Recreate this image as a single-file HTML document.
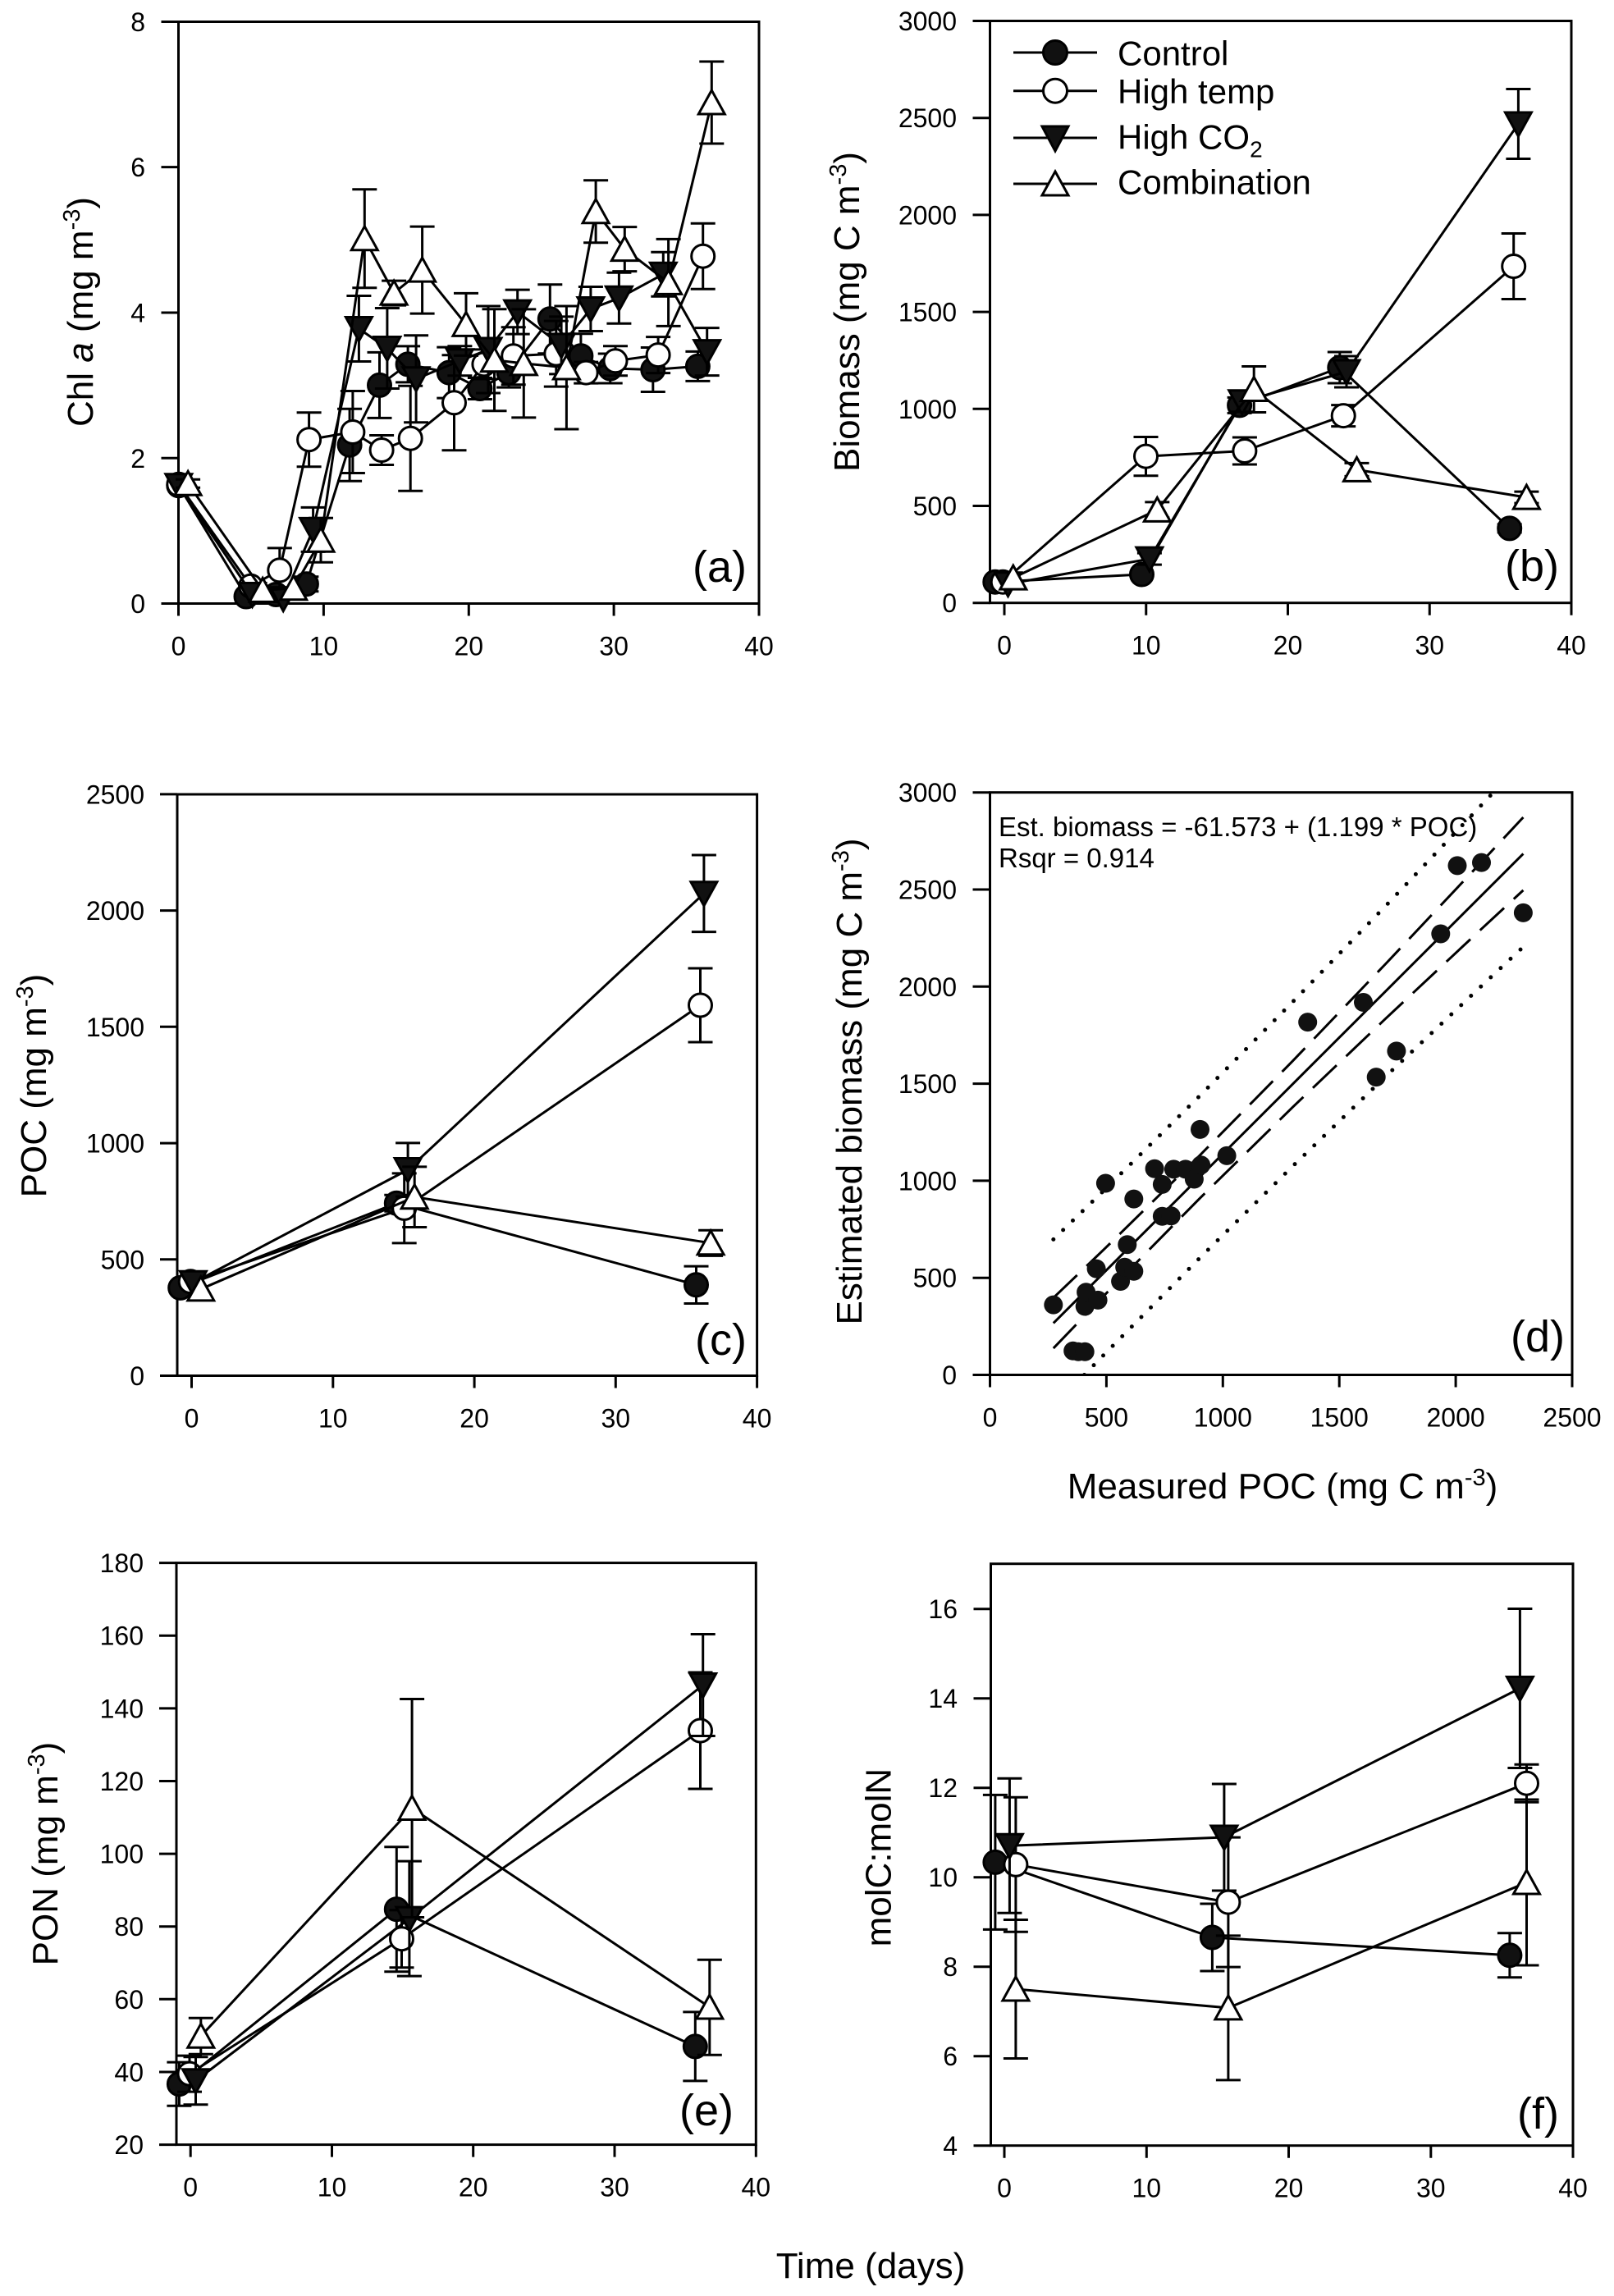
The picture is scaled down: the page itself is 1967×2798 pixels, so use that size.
<!DOCTYPE html>
<html>
<head>
<meta charset="utf-8">
<style>
html,body{margin:0;padding:0;background:#fff;}
svg{display:block;}
text{font-family:"Liberation Sans",Arial,sans-serif;fill:#000;}
.tk{font-size:32px;}
.ttl{font-size:44px;}
.lg{font-size:42px;}
.pl{font-size:54px;}
.an{font-size:33px;}
</style>
</head>
<body>
<svg width="1967" height="2798" viewBox="0 0 1967 2798" xmlns="http://www.w3.org/2000/svg">
<defs>
<marker id="fc" markerUnits="userSpaceOnUse" markerWidth="40" markerHeight="40" refX="20" refY="20" orient="0" overflow="visible"><circle cx="20" cy="20" r="14" fill="#111" stroke="#000" stroke-width="3"/></marker>
<marker id="oc" markerUnits="userSpaceOnUse" markerWidth="40" markerHeight="40" refX="20" refY="20" orient="0" overflow="visible"><circle cx="20" cy="20" r="14" fill="#fff" stroke="#000" stroke-width="3"/></marker>
<marker id="dt" markerUnits="userSpaceOnUse" markerWidth="40" markerHeight="40" refX="20" refY="20" orient="0" overflow="visible"><polygon points="4,6 36,6 20,35" fill="#111" stroke="#000" stroke-width="3"/></marker>
<marker id="ut" markerUnits="userSpaceOnUse" markerWidth="40" markerHeight="40" refX="20" refY="20" orient="0" overflow="visible"><polygon points="4,34 36,34 20,5" fill="#fff" stroke="#000" stroke-width="3"/></marker>
<marker id="cp" markerUnits="userSpaceOnUse" markerWidth="40" markerHeight="40" refX="20" refY="20" orient="0" overflow="visible"><path d="M5 20H35" stroke="#000" stroke-width="3"/></marker>
<clipPath id="clipd"><rect x="1206.5" y="965.7" width="709.5" height="709.8"/></clipPath>
</defs>
<style>
.eb{fill:none;stroke:#000;stroke-width:3;marker-start:url(#cp);marker-mid:url(#cp);marker-end:url(#cp);}
.ln{fill:none;stroke:#000;stroke-width:3;stroke-linejoin:round;}
.sfc{marker-start:url(#fc);marker-mid:url(#fc);marker-end:url(#fc);}
.soc{marker-start:url(#oc);marker-mid:url(#oc);marker-end:url(#oc);}
.sdt{marker-start:url(#dt);marker-mid:url(#dt);marker-end:url(#dt);}
.sut{marker-start:url(#ut);marker-mid:url(#ut);marker-end:url(#ut);}
.ax{fill:none;stroke:#000;stroke-width:3;}
</style>

<!-- ================= PANEL A ================= -->
<rect class="ax" x="217.5" y="26.5" width="707.5" height="709"/>
<path class="ax" d="M196.5 735.5H217.5M196.5 558.3H217.5M196.5 381H217.5M196.5 203.6H217.5M196.5 26.5H217.5M217.5 735.5V750.5M394.4 735.5V750.5M571.3 735.5V750.5M748.1 735.5V750.5M925 735.5V750.5"/>
<g class="tk" text-anchor="end">
<text x="177" y="747">0</text><text x="177" y="569.8">2</text><text x="177" y="392.5">4</text><text x="177" y="215.1">6</text><text x="177" y="38">8</text>
</g>
<g class="tk" text-anchor="middle">
<text x="217.5" y="798.5">0</text><text x="394.4" y="798.5">10</text><text x="571.3" y="798.5">20</text><text x="748.1" y="798.5">30</text><text x="925" y="798.5">40</text>
</g>
<text class="ttl" text-anchor="middle" transform="translate(113,380) rotate(-90)">Chl <tspan font-style="italic">a</tspan> (mg m<tspan dy="-16" font-size="29">-3</tspan><tspan dy="16">)</tspan></text>
<!-- control -->
<path class="eb" d="M373.4 702.7V720.7M426.1 498.3V586.3M462.5 429.4V509.4M497.1 421.9V465.9M547.3 423.1V485.1M584.9 460.5V486.5M620.1 436.1V472.1M670.3 346.8V430.8M707.9 406.7V460.7M743.7 431V467M795.8 423.5V477.5M850.4 428.4V464.4"/>
<polyline class="ln sfc" points="217.8,591.8 300,727 336.4,724.5 373.4,711.7 426.1,542.3 462.5,469.4 497.1,443.9 547.3,454.1 584.9,473.5 620.1,454.1 670.3,388.8 707.9,433.7 743.7,449 795.8,450.5 850.4,446.4"/>
<!-- high temp -->
<path class="eb" d="M340.8 667.9V721.9M376.6 502.7V568.7M429.9 476.5V576.5M465.1 530.5V566.5M500.2 470.2V598.2M553.5 432.8V548.8M589.9 425.9V461.9M625.7 398.7V468.7M677.8 391.1V471.1M714.2 441.1V467.1M750 421.8V457.8M802.1 410.6V454.6M856.7 272.2V352.2"/>
<polyline class="ln soc" points="217.8,590.3 305.6,714.3 340.8,694.9 376.6,535.7 429.9,526.5 465.1,548.5 500.2,534.2 553.5,490.8 589.9,443.9 625.7,433.7 677.8,431.1 714.2,454.1 750,439.8 802.1,432.6 856.7,312.2"/>
<!-- high CO2 -->
<path class="eb" d="M381.6 618.4V672.4M437.4 360.5V440.5M471.9 375.5V473.5M507.1 408.7V514.7M560.4 421.8V457.8M595 373V479M630.7 353.1V407.1M684.1 385.9V455.9M719.9 349.5V403.5M754.4 332.3V394.3M808.3 307.2V361.2M861.7 399.6V457.6"/>
<polyline class="ln sdt" points="217.8,591.8 307.5,724.5 345.2,729.6 381.6,645.4 437.4,400.5 471.9,424.5 507.1,461.7 560.4,439.8 595,426 630.7,380.1 684.1,420.9 719.9,376.5 754.4,363.3 808.3,334.2 861.7,428.6"/>
<!-- combination -->
<path class="eb" d="M229.1 584.3V594.3M391 631.2V685.2M444.3 230.8V350.8M480.1 342.1V372.1M514.6 276.1V382.1M568 357.4V433.4M602.5 376.8V500.8M638.3 376.9V508.9M690.4 373V523M726.1 219.7V295.7M761.3 276.6V330.6M814.6 291.4V397.4M867.3 75V175"/>
<polyline class="ln sut" points="229.1,589.3 320.1,719.4 357.7,716.8 391,658.2 444.3,290.8 480.1,357.1 514.6,329.1 568,395.4 602.5,438.8 638.3,442.9 690.4,448 726.1,257.7 761.3,303.6 814.6,344.4 867.3,125"/>
<text class="pl" text-anchor="end" x="910" y="709">(a)</text>

<!-- ================= PANEL B ================= -->
<rect class="ax" x="1206.5" y="25.5" width="708.5" height="709.2"/>
<path class="ax" d="M1185.5 734.7H1206.5M1185.5 616.5H1206.5M1185.5 498.3H1206.5M1185.5 380.1H1206.5M1185.5 261.9H1206.5M1185.5 143.7H1206.5M1185.5 25.5H1206.5M1224 734.7V749.7M1396.75 734.7V749.7M1569.5 734.7V749.7M1742.25 734.7V749.7M1915 734.7V749.7"/>
<g class="tk" text-anchor="end">
<text x="1166" y="746.2">0</text><text x="1166" y="628">500</text><text x="1166" y="509.8">1000</text><text x="1166" y="391.6">1500</text><text x="1166" y="273.4">2000</text><text x="1166" y="155.2">2500</text><text x="1166" y="37">3000</text>
</g>
<g class="tk" text-anchor="middle">
<text x="1224" y="797.7">0</text><text x="1396.75" y="797.7">10</text><text x="1569.5" y="797.7">20</text><text x="1742.25" y="797.7">30</text><text x="1915" y="797.7">40</text>
</g>
<text class="ttl" text-anchor="middle" transform="translate(1047,380) rotate(-90)">Biomass (mg C m<tspan dy="-16" font-size="29">-3</tspan><tspan dy="16">)</tspan></text>
<path class="eb" d="M1510.6 484.4V503.4M1632.8 429V467M1839.7 638.9V648.9"/>
<polyline class="ln sfc" points="1212.8,709.2 1391.5,700 1510.6,493.9 1632.8,448 1839.7,643.9"/>
<path class="eb" d="M1396.5 532.5V579.7M1516.9 533V566M1637.2 493.6V519.6M1844.7 284.5V364.5"/>
<polyline class="ln soc" points="1222.2,709.2 1396.5,556.1 1516.9,549.5 1637.2,506.6 1844.7,324.5"/>
<path class="eb" d="M1400.9 674.1V688.1M1513.7 477.8V501.8M1641 434V472M1850.4 108.5V193.5"/>
<polyline class="ln sdt" points="1228.5,711.7 1400.9,681.1 1513.7,489.8 1641,453 1850.4,151"/>
<path class="eb" d="M1410.3 611.9V630.9M1528.2 446.5V502.5M1653.5 564.4V580.4M1860.4 599.1V613.1"/>
<polyline class="ln sut" points="1234.8,704.1 1410.3,621.4 1528.2,474.5 1653.5,572.4 1860.4,606.1"/>
<!-- legend -->
<path class="ln" d="M1235 64H1337"/><circle cx="1286" cy="64" r="14.5" fill="#111" stroke="#000" stroke-width="3"/>
<path class="ln" d="M1235 110.7H1337"/><circle cx="1286" cy="110.7" r="14.5" fill="#fff" stroke="#000" stroke-width="3"/>
<path class="ln" d="M1235 168H1337"/><polygon points="1270,154 1302,154 1286,184" fill="#111" stroke="#000" stroke-width="3"/>
<path class="ln" d="M1235 224H1337"/><polygon points="1270,238 1302,238 1286,209" fill="#fff" stroke="#000" stroke-width="3"/>
<text class="lg" x="1362" y="79.3">Control</text>
<text class="lg" x="1362" y="126">High temp</text>
<text class="lg" x="1362" y="181.7">High CO<tspan dy="10" font-size="28">2</tspan></text>
<text class="lg" x="1362" y="236.7">Combination</text>
<text class="pl" text-anchor="end" x="1900" y="708">(b)</text>

<!-- ================= PANEL C ================= -->
<rect class="ax" x="216" y="968" width="706.6" height="708.5"/>
<path class="ax" d="M195 1676.5H216M195 1534.8H216M195 1393.1H216M195 1251.3H216M195 1109.6H216M195 967.9H216M233.5 1676.5V1691.5M405.8 1676.5V1691.5M578.1 1676.5V1691.5M750.3 1676.5V1691.5M922.6 1676.5V1691.5"/>
<g class="tk" text-anchor="end">
<text x="176" y="1688">0</text><text x="176" y="1546.3">500</text><text x="176" y="1404.6">1000</text><text x="176" y="1262.8">1500</text><text x="176" y="1121.1">2000</text><text x="176" y="979.4">2500</text>
</g>
<g class="tk" text-anchor="middle">
<text x="233.5" y="1739.5">0</text><text x="405.8" y="1739.5">10</text><text x="578.1" y="1739.5">20</text><text x="750.3" y="1739.5">30</text><text x="922.6" y="1739.5">40</text>
</g>
<text class="ttl" text-anchor="middle" transform="translate(56,1323) rotate(-90)">POC (mg m<tspan dy="-16" font-size="29">-3</tspan><tspan dy="16">)</tspan></text>
<path class="eb" d="M483.3 1456.3V1476.3M848.5 1543.1V1588.5"/>
<polyline class="ln sfc" points="219.7,1569.4 483.3,1466.3 848.5,1565.8"/>
<path class="eb" d="M492.7 1429.9V1514.9M853.5 1180V1270"/>
<polyline class="ln soc" points="232.2,1561.7 492.7,1472.4 853.5,1225"/>
<path class="eb" d="M497.1 1392.9V1458.1M857.9 1042V1135.6"/>
<polyline class="ln sdt" points="235.4,1563.3 497.1,1425.5 857.9,1088.8"/>
<path class="eb" d="M505.2 1421.9V1495.5M866.1 1499.2V1530.4"/>
<polyline class="ln sut" points="244.8,1570.9 505.2,1458.7 866.1,1514.8"/>
<text class="pl" text-anchor="end" x="910" y="1651">(c)</text>

<!-- ================= PANEL D ================= -->
<rect class="ax" x="1206.5" y="965.7" width="709.5" height="709.8"/>
<path class="ax" d="M1185.5 1675.5H1206.5M1185.5 1557.2H1206.5M1185.5 1438.9H1206.5M1185.5 1320.6H1206.5M1185.5 1202.3H1206.5M1185.5 1084H1206.5M1185.5 965.7H1206.5M1206.5 1675.5V1690.5M1348.4 1675.5V1690.5M1490.3 1675.5V1690.5M1632.2 1675.5V1690.5M1774.1 1675.5V1690.5M1916 1675.5V1690.5"/>
<g class="tk" text-anchor="end">
<text x="1166" y="1687">0</text><text x="1166" y="1568.7">500</text><text x="1166" y="1450.4">1000</text><text x="1166" y="1332.1">1500</text><text x="1166" y="1213.8">2000</text><text x="1166" y="1095.5">2500</text><text x="1166" y="977.2">3000</text>
</g>
<g class="tk" text-anchor="middle">
<text x="1206.5" y="1738.5">0</text><text x="1348.4" y="1738.5">500</text><text x="1490.3" y="1738.5">1000</text><text x="1632.2" y="1738.5">1500</text><text x="1774.1" y="1738.5">2000</text><text x="1916" y="1738.5">2500</text>
</g>
<text class="ttl" text-anchor="middle" transform="translate(1050,1318) rotate(-90)">Estimated biomass (mg C m<tspan dy="-16" font-size="29">-3</tspan><tspan dy="16">)</tspan></text>
<text class="ttl" text-anchor="middle" x="1563" y="1826">Measured POC (mg C m<tspan dy="-16" font-size="29">-3</tspan><tspan dy="16">)</tspan></text>
<g clip-path="url(#clipd)" fill="none" stroke="#000">
<polyline stroke-width="5" stroke-linecap="round" stroke-dasharray="0 16.5" points="1283.8,1510.4 1348,1448.1 1461.6,1336 1575.2,1221.2 1688.8,1103.9 1802.4,984.3 1819.6,966"/>
<polyline stroke-width="5" stroke-linecap="round" stroke-dasharray="0 16.5" points="1321.5,1675.5 1348,1648.3 1461.6,1533.6 1575.2,1421.4 1688.8,1311.7 1802.4,1204.4 1856.4,1154"/>
<polyline stroke-width="3" stroke-dasharray="40 16" points="1283.8,1581.6 1348,1520.1 1461.6,1408.6 1575.2,1293.2 1688.8,1174.5 1802.4,1053.8 1856.4,996"/>
<polyline stroke-width="3" stroke-dasharray="40 16" points="1283.8,1643.1 1348,1576.3 1461.6,1460.9 1575.2,1349.4 1688.8,1241.2 1802.4,1134.9 1856.4,1084.9"/>
<line stroke-width="3" x1="1283.8" y1="1612.4" x2="1856.4" y2="1040.4"/>
</g>
<g fill="#111">
<circle cx="1283.8" cy="1590.1" r="11.5"/><circle cx="1307.7" cy="1646.2" r="11.5"/><circle cx="1314.2" cy="1647.3" r="11.5"/><circle cx="1322.2" cy="1647.3" r="11.5"/>
<circle cx="1322.2" cy="1592" r="11.5"/><circle cx="1323.6" cy="1574.7" r="11.5"/><circle cx="1338.1" cy="1584.4" r="11.5"/><circle cx="1336.1" cy="1546.1" r="11.5"/>
<circle cx="1347.4" cy="1442" r="11.5"/><circle cx="1365.6" cy="1561.5" r="11.5"/><circle cx="1373.8" cy="1516.7" r="11.5"/><circle cx="1370.7" cy="1544.2" r="11.5"/>
<circle cx="1381.8" cy="1549.2" r="11.5"/><circle cx="1381.8" cy="1461.1" r="11.5"/><circle cx="1407.1" cy="1424.2" r="11.5"/><circle cx="1416.4" cy="1443.4" r="11.5"/>
<circle cx="1416.4" cy="1482.2" r="11.5"/><circle cx="1427.2" cy="1481.7" r="11.5"/><circle cx="1430.4" cy="1424.9" r="11.5"/><circle cx="1444.8" cy="1424.9" r="11.5"/>
<circle cx="1455.4" cy="1437" r="11.5"/><circle cx="1463.6" cy="1419.7" r="11.5"/><circle cx="1462.5" cy="1376.4" r="11.5"/><circle cx="1495.1" cy="1408.4" r="11.5"/>
<circle cx="1593.7" cy="1245.6" r="11.5"/><circle cx="1661.5" cy="1221.5" r="11.5"/><circle cx="1677.2" cy="1312.6" r="11.5"/><circle cx="1701.9" cy="1280.9" r="11.5"/>
<circle cx="1755.8" cy="1138" r="11.5"/><circle cx="1776" cy="1054.9" r="11.5"/><circle cx="1805.5" cy="1051.1" r="11.5"/><circle cx="1856.4" cy="1112.4" r="11.5"/>
</g>
<text class="an" x="1217" y="1019">Est. biomass = -61.573 + (1.199 * POC)</text>
<text class="an" x="1217" y="1057">Rsqr = 0.914</text>
<text class="pl" text-anchor="end" x="1907" y="1647">(d)</text>

<!-- ================= PANEL E ================= -->
<rect class="ax" x="215" y="1904.6" width="706.3" height="709"/>
<path class="ax" d="M194 2613.6H215M194 2525H215M194 2436.3H215M194 2347.7H215M194 2259.1H215M194 2170.5H215M194 2081.9H215M194 1993.2H215M194 1904.6H215M232.2 2613.6V2628.6M404.5 2613.6V2628.6M576.7 2613.6V2628.6M749 2613.6V2628.6M921.3 2613.6V2628.6"/>
<g class="tk" text-anchor="end">
<text x="175" y="2625.1">20</text><text x="175" y="2536.5">40</text><text x="175" y="2447.8">60</text><text x="175" y="2359.2">80</text><text x="175" y="2270.6">100</text><text x="175" y="2182">120</text><text x="175" y="2093.4">140</text><text x="175" y="2004.7">160</text><text x="175" y="1916.1">180</text>
</g>
<g class="tk" text-anchor="middle">
<text x="232.2" y="2676.6">0</text><text x="404.5" y="2676.6">10</text><text x="576.7" y="2676.6">20</text><text x="749" y="2676.6">30</text><text x="921.3" y="2676.6">40</text>
</g>
<text class="ttl" text-anchor="middle" transform="translate(70,2259) rotate(-90)">PON (mg m<tspan dy="-16" font-size="29">-3</tspan><tspan dy="16">)</tspan></text>
<path class="eb" d="M218.4 2513.1V2566.3M483.3 2250.7V2402.7M847.3 2451.9V2535.9"/>
<polyline class="ln sfc" points="218.4,2539.7 483.3,2326.7 847.3,2493.9"/>
<path class="eb" d="M231 2505.1V2549.1M489.5 2327.7V2397.7M853.5 2038V2180"/>
<polyline class="ln soc" points="231,2527.1 489.5,2362.7 853.5,2109"/>
<path class="eb" d="M238.5 2506.7V2564.7M498.9 2268.1V2408.1M856.7 1991.5V2115.5"/>
<polyline class="ln sdt" points="238.5,2535.7 498.9,2338.1 856.7,2053.5"/>
<path class="eb" d="M244.8 2459.3V2503.3M502.1 2070.5V2336.5M864.8 2388.2V2504.2"/>
<polyline class="ln sut" points="244.8,2481.3 502.1,2203.5 864.8,2446"/>
<text class="pl" text-anchor="end" x="894" y="2590">(e)</text>

<!-- ================= PANEL F ================= -->
<rect class="ax" x="1207.5" y="1905.7" width="709.5" height="709"/>
<path class="ax" d="M1186.5 2614.7H1207.5M1186.5 2505.7H1207.5M1186.5 2396.7H1207.5M1186.5 2287.7H1207.5M1186.5 2178.7H1207.5M1186.5 2069.7H1207.5M1186.5 1960.7H1207.5M1224 2614.7V2629.7M1397.3 2614.7V2629.7M1570.5 2614.7V2629.7M1743.8 2614.7V2629.7M1917 2614.7V2629.7"/>
<g class="tk" text-anchor="end">
<text x="1167" y="2626.2">4</text><text x="1167" y="2517.2">6</text><text x="1167" y="2408.2">8</text><text x="1167" y="2299.2">10</text><text x="1167" y="2190.2">12</text><text x="1167" y="2081.2">14</text><text x="1167" y="1972.2">16</text>
</g>
<g class="tk" text-anchor="middle">
<text x="1224" y="2677.7">0</text><text x="1397.3" y="2677.7">10</text><text x="1570.5" y="2677.7">20</text><text x="1743.8" y="2677.7">30</text><text x="1917" y="2677.7">40</text>
</g>
<text class="ttl" text-anchor="middle" transform="translate(1085.6,2263.6) rotate(-90)">molC:molN</text>
<path class="eb" d="M1212.9 2187.4V2351.4M1477.4 2320V2402M1839.9 2355.8V2409.8"/>
<polyline class="ln sfc" points="1212.9,2269.4 1477.4,2361 1839.9,2382.8"/>
<path class="eb" d="M1237.9 2190.3V2354.3M1496.9 2239.1V2397.1M1860.5 2150.2V2196.2"/>
<polyline class="ln soc" points="1237.9,2272.3 1496.9,2318.1 1860.5,2173.2"/>
<path class="eb" d="M1230.4 2167.3V2331.3M1491.9 2174V2304M1852.4 1960.5V2154.5"/>
<polyline class="ln sdt" points="1230.4,2249.3 1491.9,2239 1852.4,2057.5"/>
<path class="eb" d="M1237.9 2339.5V2508.5M1496.9 2358.9V2534.9M1860.5 2193V2395"/>
<polyline class="ln sut" points="1237.9,2424 1496.9,2446.9 1860.5,2294"/>
<text class="pl" text-anchor="end" x="1900" y="2594">(f)</text>

<!-- common x label -->
<text class="ttl" text-anchor="middle" x="1061" y="2776">Time (days)</text>
</svg>
</body>
</html>
